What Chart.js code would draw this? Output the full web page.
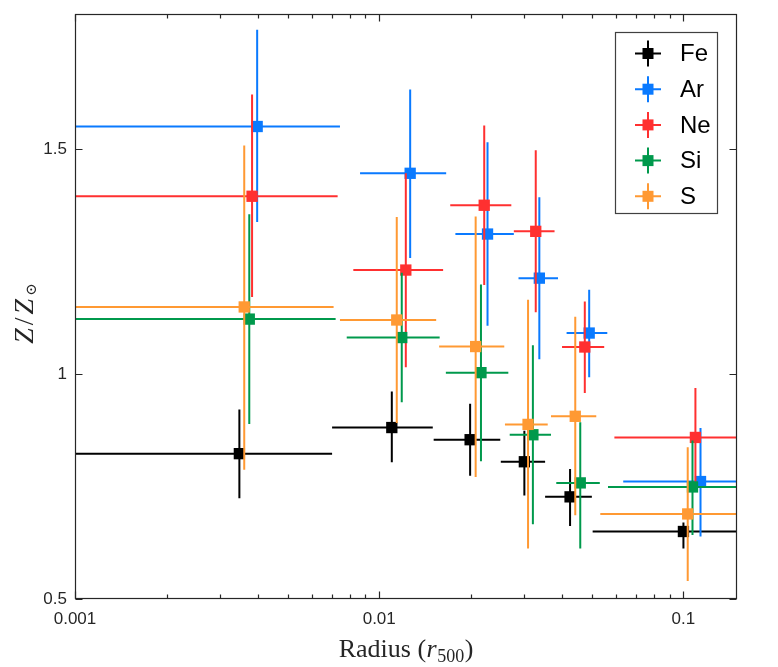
<!DOCTYPE html>
<html>
<head>
<meta charset="utf-8">
<script src="https://cdn.jsdelivr.net/npm/chart.js@4.4.1/dist/chart.umd.min.js"></script>
<style>
html,body{margin:0;padding:0;background:#fff;}
#wrap{width:778px;height:667px;position:relative;}
</style>
</head>
<body>
<div id="wrap"><canvas id="c" width="778" height="667"></canvas></div>
<script>
// ---- data ----
const elements = ['Fe', 'Ar', 'Ne', 'Si', 'S'];
const seriesColors = ['#000000', '#0a7aff', '#ff3030', '#00994c', '#ff9933'];

const xTickValues = [0.001, 0.01, 0.1];
const xTickLabels = ['0.001', '0.01', '0.1'];
const yTickValues = [0.5, 1, 1.5];
const yTickLabels = ['0.5', '1', '1.5'];
const xTitleParts = ['Radius (', 'r', '500', ')'];
const yTitleParts = ['Z', '/', 'Z', '\u2299'];

// Fe
const radiusFe   = [0.00347, 0.0110, 0.0199, 0.0300, 0.0424, 0.100];
const radiusFeLo = [0.0005, 0.0070, 0.0151, 0.0251, 0.0351, 0.0503];
const radiusFeHi = [0.0070, 0.0150, 0.0250, 0.0351, 0.0500, 0.2];
const zFe        = [0.823, 0.881, 0.854, 0.805, 0.727, 0.650];
const zFeLo      = [0.724, 0.804, 0.774, 0.730, 0.662, 0.612];
const zFeHi      = [0.921, 0.961, 0.934, 0.874, 0.789, 0.670];
// Ar
const radiusAr   = [0.00397, 0.01264, 0.0227, 0.0336, 0.0490, 0.1138];
const radiusArLo = [0.0005, 0.00865, 0.0178, 0.0287, 0.0413, 0.0634];
const radiusArHi = [0.00743, 0.0166, 0.0277, 0.0387, 0.0562, 0.2];
const zAr        = [1.550, 1.446, 1.311, 1.213, 1.091, 0.761];
const zArLo      = [1.338, 1.258, 1.107, 1.033, 0.993, 0.639];
const zArHi      = [1.765, 1.632, 1.515, 1.393, 1.187, 0.880];
// Ne
const radiusNe   = [0.00382, 0.01223, 0.02214, 0.0327, 0.0474, 0.1095];
const radiusNeLo = [0.0005, 0.00822, 0.01712, 0.0277, 0.0399, 0.0593];
const radiusNeHi = [0.0073, 0.01622, 0.02718, 0.0377, 0.0549, 0.2];
const zNe        = [1.395, 1.231, 1.375, 1.317, 1.060, 0.859];
const zNeLo      = [1.171, 1.015, 1.198, 1.137, 0.958, 0.750];
const zNeHi      = [1.621, 1.446, 1.552, 1.497, 1.161, 0.969];
// Si
const radiusSi   = [0.00374, 0.01186, 0.0216, 0.0320, 0.0458, 0.1071];
const radiusSiLo = [0.0005, 0.00782, 0.01656, 0.02685, 0.0382, 0.0565];
const radiusSiHi = [0.00719, 0.0158, 0.02657, 0.0367, 0.0531, 0.2];
const zSi        = [1.122, 1.081, 1.003, 0.865, 0.758, 0.749];
const zSiLo      = [0.889, 0.937, 0.806, 0.666, 0.612, 0.642];
const zSiHi      = [1.355, 1.225, 1.199, 1.064, 0.893, 0.852];
// S
const radiusS    = [0.0036, 0.01142, 0.02075, 0.03085, 0.0441, 0.1033];
const radiusSLo  = [0.0005, 0.00743, 0.01574, 0.0259, 0.0367, 0.0533];
const radiusSHi  = [0.00708, 0.01539, 0.02577, 0.0358, 0.0517, 0.2];
const zS         = [1.149, 1.120, 1.061, 0.888, 0.906, 0.689];
const zSLo       = [0.787, 0.891, 0.771, 0.612, 0.686, 0.540];
const zSHi       = [1.508, 1.349, 1.350, 1.165, 1.127, 0.837];

const seriesX   = [radiusFe, radiusAr, radiusNe, radiusSi, radiusS];
const seriesXLo = [radiusFeLo, radiusArLo, radiusNeLo, radiusSiLo, radiusSLo];
const seriesXHi = [radiusFeHi, radiusArHi, radiusNeHi, radiusSiHi, radiusSHi];
const seriesY   = [zFe, zAr, zNe, zSi, zS];
const seriesYLo = [zFeLo, zArLo, zNeLo, zSiLo, zSLo];
const seriesYHi = [zFeHi, zArHi, zNeHi, zSiHi, zSHi];

const AXIS_COLOR = '#262626';
const TICK_FONT = {family: "'Liberation Sans', Arial, sans-serif", size: 17};
const SERIF = "'Liberation Serif', 'DejaVu Serif', serif";

const datasets = elements.map((name, i) => ({
  label: name,
  data: seriesX[i].map((x, k) => ({x: x, y: seriesY[i][k]})),
  pointStyle: 'rect',
  pointRadius: 8,
  pointHoverRadius: 8,
  backgroundColor: seriesColors[i],
  borderColor: seriesColors[i],
  borderWidth: 0,
  showLine: false,
  order: elements.length - i
}));

const errorBarPlugin = {
  id: 'errorBars',
  beforeDatasetDraw(chart, args) {
    const i = args.index;
    const xs = chart.scales.x, ys = chart.scales.y, a = chart.chartArea;
    const ctx = chart.ctx;
    ctx.save();
    ctx.beginPath();
    ctx.rect(a.left, a.top, a.right - a.left, a.bottom - a.top);
    ctx.clip();
    ctx.strokeStyle = seriesColors[i];
    ctx.lineWidth = 2;
    seriesX[i].forEach((x, k) => {
      const px = xs.getPixelForValue(x);
      const py = ys.getPixelForValue(seriesY[i][k]);
      ctx.beginPath();
      ctx.moveTo(xs.getPixelForValue(seriesXLo[i][k]), py);
      ctx.lineTo(xs.getPixelForValue(seriesXHi[i][k]), py);
      ctx.moveTo(px, ys.getPixelForValue(seriesYLo[i][k]));
      ctx.lineTo(px, ys.getPixelForValue(seriesYHi[i][k]));
      ctx.stroke();
    });
    ctx.restore();
  }
};

function drawRich(ctx, parts, fonts, offsets, cx, baseline, gap) {
  let total = 0;
  const widths = parts.map((t, k) => { ctx.font = fonts[k]; const w = ctx.measureText(t).width; total += w; return w; });
  total += gap * (parts.length - 1);
  let x = cx - total / 2;
  ctx.textAlign = 'left';
  ctx.textBaseline = 'alphabetic';
  parts.forEach((t, k) => {
    ctx.font = fonts[k];
    ctx.fillText(t, x, baseline + offsets[k]);
    x += widths[k] + gap;
  });
}

const boxPlugin = {
  id: 'boxTicks',
  afterDraw(chart) {
    const ctx = chart.ctx, a = chart.chartArea;
    const xs = chart.scales.x, ys = chart.scales.y;
    ctx.save();
    ctx.strokeStyle = AXIS_COLOR;
    ctx.lineWidth = 1.2;
    const L = Math.round(a.left) + 0.5, R = Math.round(a.right) - 0.5;
    const T = Math.round(a.top) + 0.5, B = Math.round(a.bottom) - 0.5;
    ctx.strokeRect(L, T, R - L, B - T);
    ctx.beginPath();
    const xmin = xs.min, xmax = xs.max;
    for (let e = -3; e <= -1; e++) {
      for (let m = 1; m <= 9; m++) {
        const v = m * Math.pow(10, e);
        if (v < xmin * 0.9999 || v > xmax) continue;
        const px = Math.round(xs.getPixelForValue(v)) + 0.5;
        const len = m === 1 ? 7 : 4;
        ctx.moveTo(px, B); ctx.lineTo(px, B - len);
        ctx.moveTo(px, T); ctx.lineTo(px, T + len);
      }
    }
    yTickValues.forEach(v => {
      const py = Math.round(ys.getPixelForValue(v)) + 0.5;
      ctx.moveTo(L, py); ctx.lineTo(L + 7, py);
      ctx.moveTo(R, py); ctx.lineTo(R - 7, py);
    });
    ctx.stroke();

    // axis titles
    ctx.fillStyle = AXIS_COLOR;
    drawRich(ctx, xTitleParts,
      ['26px ' + SERIF, 'italic 26px ' + SERIF, '18px ' + SERIF, '26px ' + SERIF],
      [0, 0, 5, 0], (a.left + a.right) / 2, 657, 0.5);
    ctx.save();
    ctx.translate(33, (a.top + a.bottom) / 2 + 7);
    ctx.rotate(-Math.PI / 2);
    drawRich(ctx, yTitleParts,
      ['italic 28px ' + SERIF, '28px ' + SERIF, 'italic 28px ' + SERIF, '15px ' + SERIF],
      [0, 0, 0, 3], 0, 0, 3);
    ctx.restore();

    // legend
    const lx = 615.5, ly = 32.5, lw = 102, lh = 181;
    ctx.fillStyle = '#ffffff';
    ctx.fillRect(lx, ly, lw, lh);
    ctx.strokeStyle = '#404040';
    ctx.lineWidth = 1.2;
    ctx.strokeRect(lx, ly, lw, lh);
    ctx.font = "24px 'Liberation Sans', Arial, sans-serif";
    ctx.textBaseline = 'middle';
    ctx.textAlign = 'left';
    elements.forEach((name, i) => {
      const cy = 53.5 + i * 35.7;
      const cx = 648;
      ctx.strokeStyle = seriesColors[i];
      ctx.lineWidth = 2;
      ctx.beginPath();
      ctx.moveTo(cx - 13, cy); ctx.lineTo(cx + 13, cy);
      ctx.moveTo(cx, cy - 13); ctx.lineTo(cx, cy + 13);
      ctx.stroke();
      ctx.fillStyle = seriesColors[i];
      ctx.fillRect(cx - 5.5, cy - 5.5, 11, 11);
      ctx.fillStyle = '#000000';
      ctx.fillText(name, 680, cy + 1);
    });
    ctx.restore();
  }
};

new Chart(document.getElementById('c'), {
  type: 'scatter',
  data: {datasets: datasets},
  plugins: [errorBarPlugin, boxPlugin],
  options: {
    responsive: false,
    animation: false,
    devicePixelRatio: 1,
    layout: {padding: {left: 0, top: 14, right: 41, bottom: 0}},
    plugins: {legend: {display: false}, tooltip: {enabled: false}},
    scales: {
      x: {
        type: 'logarithmic',
        min: 0.001,
        max: 0.15,
        afterBuildTicks(scale) { scale.ticks = xTickValues.map(v => ({value: v, major: true})); },
        afterFit(scale) { scale.height = 68; scale.paddingLeft = 0; scale.paddingRight = 0; },
        grid: {display: false, drawTicks: false},
        border: {display: false},
        ticks: {
          color: AXIS_COLOR, font: TICK_FONT, padding: 10, autoSkip: false, maxRotation: 0,
          callback: (v) => { const k = xTickValues.indexOf(v); return k >= 0 ? xTickLabels[k] : ''; }
        },
        title: {display: false}
      },
      y: {
        type: 'linear',
        min: 0.5,
        max: 1.8,
        afterBuildTicks(scale) { scale.ticks = yTickValues.map(v => ({value: v})); },
        afterFit(scale) { scale.width = 75; scale.paddingTop = 0; scale.paddingBottom = 0; },
        grid: {display: false, drawTicks: false},
        border: {display: false},
        ticks: {
          color: AXIS_COLOR, font: TICK_FONT, padding: 8,
          callback: (v) => { const k = yTickValues.indexOf(v); return k >= 0 ? yTickLabels[k] : ''; }
        },
        title: {display: false}
      }
    }
  }
});
</script>
</body>
</html>
